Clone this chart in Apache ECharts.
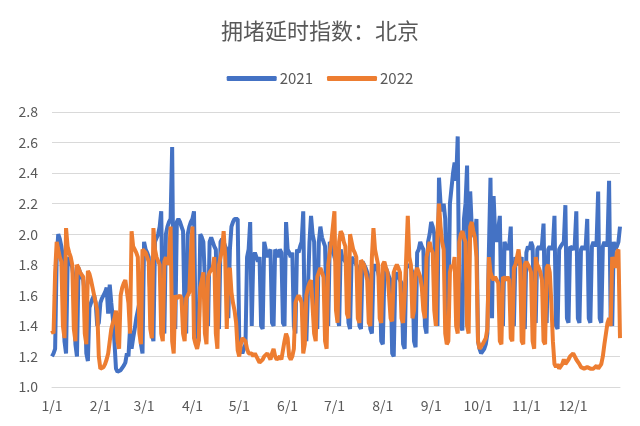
<!DOCTYPE html>
<html><head><meta charset="utf-8">
<script src="https://cdn.jsdelivr.net/npm/echarts@6/dist/echarts.min.js"></script>
<style>html,body{margin:0;padding:0;background:#fff}#c{width:640px;height:426px}</style>
</head><body><div id="c"></div>
<script>
const titleText = '拥堵延时指数：北京';
const seriesNames = ['2021', '2022'];
const monthLengths = [31,28,31,30,31,30,31,31,30,31,30,31];
const yTicks = [1.0,1.2,1.4,1.6,1.8,2.0,2.2,2.4,2.6,2.8];

// 2021 daily values (Jan 1 .. Dec 31)
const v2021 = [
1.20,1.22,1.25,
1.85,2.00,1.97,1.92,1.85,1.30,1.22,
1.80,1.85,1.82,1.78,1.70,1.28,1.20,
1.78,1.75,1.72,1.70,1.62,1.22,1.17,
1.52,1.55,1.58,1.60,1.55,1.40,1.42,
1.55,1.58,1.60,1.62,1.65,1.48,1.67,
1.55,1.45,1.30,1.12,1.10,1.10,1.11,
1.12,1.14,1.16,1.22,1.20,1.38,1.25,
1.32,1.38,1.45,1.50,1.55,1.28,1.22,
1.95,1.90,1.88,1.85,1.85,1.35,1.30,
1.95,1.95,2.00,2.05,2.15,1.40,1.35,
2.00,2.05,2.08,2.10,2.57,1.45,1.38,
2.08,2.10,2.08,2.05,2.02,1.42,1.35,
2.00,2.05,2.08,2.10,2.15,1.40,1.35,
1.30,2.00,1.98,1.95,1.95,1.45,1.40,
1.95,1.98,1.95,1.92,1.90,1.42,1.38,
1.95,1.97,1.95,1.92,1.90,1.45,1.90,
2.05,2.08,2.10,2.10,2.10,1.30,1.25,
1.22,1.25,1.28,1.85,1.90,2.08,1.40,
1.85,1.88,1.85,1.82,1.85,1.40,1.38,
1.95,1.90,1.85,1.88,1.90,1.42,1.40,
1.90,1.88,1.85,1.90,1.88,1.42,1.40,
2.08,1.90,1.88,1.85,1.88,1.40,1.35,
1.90,1.88,1.92,1.95,2.15,1.35,1.30,
1.30,1.95,2.12,2.00,1.95,1.42,1.38,
1.95,2.05,1.98,1.95,1.92,1.45,1.40,
1.95,1.92,1.90,1.85,1.82,1.45,1.40,
1.90,1.85,1.85,1.82,1.80,1.42,1.38,
1.85,1.85,1.82,1.80,1.78,1.40,1.38,
1.82,1.82,1.78,1.75,1.72,1.38,1.35,
1.78,1.80,1.78,1.75,1.70,1.30,1.28,
1.75,1.78,1.75,1.72,1.70,1.22,1.20,
1.72,1.75,1.72,1.70,1.68,1.28,1.25,
1.78,1.80,1.80,1.78,1.75,1.30,1.26,
1.88,1.90,1.95,1.92,1.90,1.40,1.35,
1.95,2.00,2.08,2.05,2.00,1.45,1.40,
2.37,2.20,2.15,2.20,2.10,1.55,1.45,
2.20,2.30,2.40,2.47,2.35,2.64,1.50,
1.40,1.37,2.10,2.20,2.45,1.60,2.28,
2.05,2.00,1.98,2.10,1.30,1.25,1.22,
1.22,1.25,1.28,1.35,1.90,2.37,1.45,
2.25,2.00,1.95,1.95,2.12,1.45,1.40,
1.95,1.92,1.90,1.92,2.05,1.42,1.40,
1.85,1.82,1.80,1.82,1.85,1.40,1.38,
1.88,1.92,1.90,1.95,1.92,1.45,1.42,
1.90,1.92,1.90,1.93,2.07,1.45,1.42,
1.90,1.92,1.90,1.92,2.12,1.40,1.38,
1.90,1.92,1.92,1.95,2.19,1.45,1.42,
1.92,1.92,1.90,1.93,2.15,1.45,1.42,
1.90,1.92,1.90,1.92,2.10,1.45,1.42,
1.92,1.95,1.92,1.95,2.28,1.45,1.42,
1.92,1.95,1.92,1.95,2.35,1.45,1.40,
1.95,1.90,1.92,1.95,2.05
];

// 2022 daily values (Jan 1 .. Dec 31)
const v2022 = [
1.37,1.35,
1.75,1.95,1.90,1.85,1.82,1.40,1.32,
2.04,1.92,1.88,1.85,1.80,1.38,1.30,
1.80,1.78,1.75,1.75,1.72,1.35,1.28,
1.76,1.74,1.70,1.65,1.60,1.55,1.50,
1.20,1.12,1.12,1.13,1.15,1.18,1.22,
1.30,1.38,1.42,1.45,1.50,1.30,1.25,
1.60,1.65,1.68,1.70,1.70,1.55,1.35,
2.02,1.92,1.90,1.88,1.85,1.35,1.28,
1.90,1.90,1.88,1.85,1.82,1.38,1.32,
2.04,1.90,1.85,1.85,1.80,1.35,1.30,
1.82,1.85,1.80,1.85,2.05,1.30,1.22,
1.60,1.58,1.58,1.60,1.58,1.35,1.30,
1.58,1.60,1.62,1.88,2.05,1.32,1.28,
1.25,1.30,1.65,1.70,1.75,1.35,1.28,
1.72,1.75,1.75,1.78,1.85,1.35,1.25,
1.80,1.85,1.90,2.02,1.85,1.38,1.75,
1.78,1.62,1.55,1.50,1.42,1.24,1.20,
1.28,1.32,1.33,1.30,1.25,1.22,1.22,
1.22,1.20,1.22,1.20,1.18,1.16,1.15,
1.18,1.20,1.20,1.22,1.20,1.18,1.22,
1.25,1.20,1.18,1.18,1.20,1.18,1.17,
1.30,1.35,1.32,1.20,1.18,1.20,1.25,
1.55,1.58,1.60,1.58,1.55,1.22,1.28,
1.60,1.65,1.68,1.70,1.70,1.35,1.30,
1.72,1.75,1.78,1.75,1.72,1.30,1.25,
1.80,1.88,1.95,2.05,2.15,1.50,1.42,
1.95,2.02,2.00,1.95,1.92,1.48,1.45,
2.00,1.95,1.90,1.88,1.85,1.45,1.42,
1.83,1.82,1.80,1.75,1.70,1.42,1.40,
1.85,2.04,1.90,1.85,1.80,1.45,1.42,
1.80,1.82,1.78,1.75,1.75,1.45,1.43,
1.75,1.78,1.80,1.78,1.75,1.45,1.42,
1.60,1.85,2.12,1.85,1.80,1.45,1.50,
1.75,1.78,1.75,1.72,1.65,1.50,1.45,
1.85,1.90,1.95,1.90,1.88,1.50,1.40,
2.00,2.20,2.05,1.95,1.90,1.35,1.28,
1.30,1.75,1.80,1.78,1.85,1.40,1.35,
1.95,2.00,2.02,1.98,1.95,1.40,1.35,
2.05,2.08,2.02,1.98,1.85,1.30,1.25,
1.25,1.28,1.30,1.32,1.38,1.85,1.75,
1.72,1.70,1.72,1.70,1.68,1.30,1.28,
1.72,1.72,1.70,1.72,1.70,1.32,1.30,
1.78,1.80,1.85,1.90,1.80,1.30,1.28,
1.80,1.82,1.80,1.78,1.75,1.30,1.25,
1.85,1.80,1.78,1.75,1.70,1.30,1.28,
1.78,1.80,1.75,1.55,1.30,1.15,1.13,
1.15,1.12,1.13,1.15,1.18,1.15,1.14,
1.18,1.20,1.20,1.22,1.20,1.18,1.17,
1.15,1.13,1.12,1.12,1.13,1.13,1.12,
1.12,1.13,1.12,1.12,1.14,1.12,1.12,
1.15,1.20,1.28,1.35,1.42,1.45,1.40,
1.85,1.82,1.78,1.88,1.90,1.32
];

const days = [];
monthLengths.forEach((n, m) => { for (let d = 1; d <= n; d++) days.push((m + 1) + '/' + d); });

const chart = echarts.init(document.getElementById('c'), null, {renderer: 'canvas'});
const txt = '#595959';
const fam = '"Noto Sans CJK SC", "Noto Sans", sans-serif';
chart.setOption({
  animation: false,
  backgroundColor: '#fff',
  title: {text: titleText, left: 'center', top: 15,
    textStyle: {color: txt, fontSize: 22, fontWeight: 'normal', fontFamily: fam}},
  legend: {data: seriesNames, top: 66, left: 'center', icon: 'roundRect', itemWidth: 50, itemHeight: 5, itemGap: 14,
    textStyle: {color: txt, fontSize: 15, fontFamily: fam, padding: [0, 0, 0, -2]}},
  grid: {left: 52, right: 20, top: 112, bottom: 39},
  xAxis: {type: 'category', data: days, boundaryGap: false,
    axisLine: {lineStyle: {color: '#d9d9d9'}}, axisTick: {show: false},
    axisLabel: {color: txt, fontSize: 14, fontFamily: fam, margin: 12,
      interval: (i, v) => v.endsWith('/1') && !v.endsWith('/11') && !v.endsWith('/21') && !v.endsWith('/31')}},
  yAxis: {type: 'value', min: yTicks[0], max: yTicks[yTicks.length - 1], interval: 0.2,
    axisLine: {show: false}, axisTick: {show: false},
    splitLine: {lineStyle: {color: '#d9d9d9', width: 1}},
    axisLabel: {color: txt, fontSize: 14, fontFamily: fam, margin: 14, formatter: v => v.toFixed(1)}},
  series: [
    {name: seriesNames[0], type: 'line', data: v2021, showSymbol: false, symbol: 'none',
      lineStyle: {color: '#4472C4', width: 4}, itemStyle: {color: '#4472C4'}},
    {name: seriesNames[1], type: 'line', data: v2022, showSymbol: false, symbol: 'none',
      lineStyle: {color: '#ED7D31', width: 4}, itemStyle: {color: '#ED7D31'}}
  ]
});
</script></body></html>
